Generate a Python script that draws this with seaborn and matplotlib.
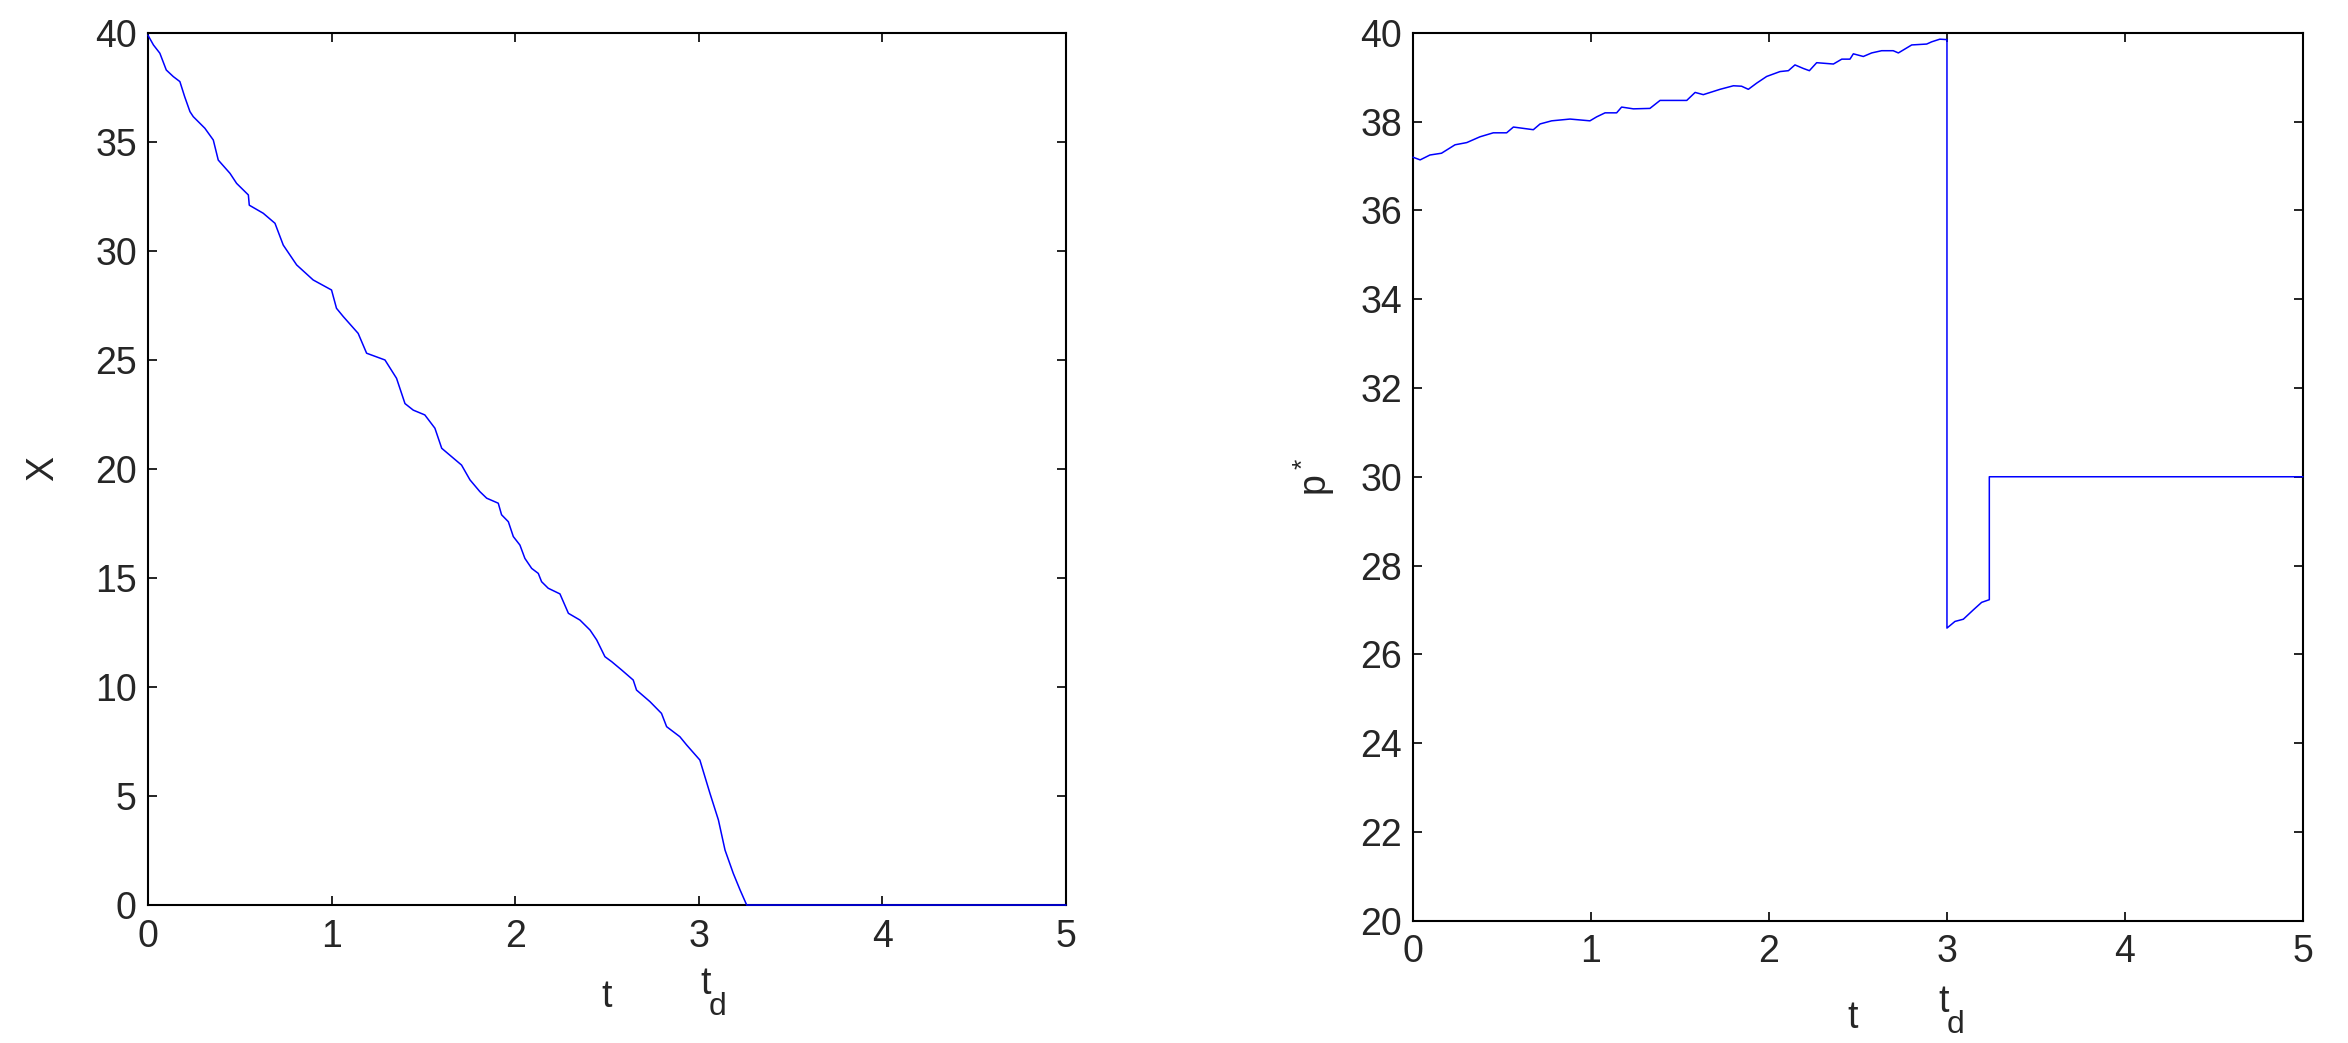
import numpy as np
import pandas as pd
import matplotlib
matplotlib.use("Agg")
import matplotlib.pyplot as plt
import seaborn as sns

# X(t) - left panel
t_x = [0, 0.03, 0.065, 0.10, 0.138, 0.174, 0.20, 0.229, 0.247, 0.31,
       0.356, 0.383, 0.447, 0.483, 0.547, 0.552, 0.628, 0.692, 0.737, 0.81,
       0.90, 1.0, 1.027, 1.064, 1.145, 1.191, 1.291, 1.354, 1.40, 1.445,
       1.508, 1.563, 1.60, 1.708, 1.754, 1.808, 1.845, 1.908, 1.926, 1.963,
       1.99, 2.026, 2.053, 2.09, 2.126, 2.144, 2.18, 2.244, 2.29, 2.353,
       2.408, 2.444, 2.489, 2.526, 2.58, 2.643, 2.661, 2.734, 2.797, 2.825,
       2.897, 2.934, 3.006, 3.061, 3.107, 3.143, 3.188, 3.225, 3.261, 5.0]
X = [39.9, 39.45, 39.07, 38.3, 38.0, 37.77, 37.08, 36.39, 36.16, 35.63,
     35.09, 34.17, 33.56, 33.1, 32.57, 32.1, 31.73, 31.27, 30.27, 29.36,
     28.67, 28.21, 27.37, 26.99, 26.22, 25.31, 25.0, 24.16, 23.0, 22.7,
     22.48, 21.87, 20.95, 20.18, 19.5, 18.96, 18.66, 18.43, 17.9, 17.58,
     16.9, 16.51, 15.9, 15.44, 15.21, 14.83, 14.53, 14.27, 13.38, 13.07,
     12.61, 12.16, 11.39, 11.16, 10.78, 10.32, 9.86, 9.33, 8.79, 8.18,
     7.72, 7.34, 6.65, 5.12, 3.9, 2.52, 1.45, 0.69, 0.0, 0.0]

# p*(t) - right panel
t_p = [0.0, 0.04, 0.095, 0.16, 0.236, 0.302, 0.376, 0.451, 0.526, 0.564,
       0.676, 0.714, 0.779, 0.882, 0.994, 1.032, 1.079, 1.144, 1.172, 1.238,
       1.331, 1.388, 1.538, 1.585, 1.631, 1.725, 1.80, 1.846, 1.884, 1.931,
       1.987, 2.062, 2.109, 2.146, 2.193, 2.227, 2.268, 2.362, 2.409, 2.455,
       2.474, 2.53, 2.577, 2.633, 2.698, 2.727, 2.802, 2.886, 2.914, 2.96,
       3.0, 3.0, 3.045, 3.092, 3.148, 3.195, 3.238, 3.238, 5.0]
p_star = [37.2, 37.14, 37.25, 37.29, 37.48, 37.53, 37.66, 37.75, 37.75, 37.88,
          37.82, 37.95, 38.02, 38.06, 38.02, 38.11, 38.2, 38.2, 38.33, 38.29,
          38.3, 38.48, 38.48, 38.66, 38.61, 38.73, 38.81, 38.8, 38.73, 38.87,
          39.02, 39.13, 39.15, 39.28, 39.2, 39.15, 39.33, 39.3, 39.41, 39.41,
          39.53, 39.47, 39.55, 39.6, 39.6, 39.55, 39.73, 39.75, 39.8, 39.86,
          39.85, 26.59, 26.74, 26.79, 27.0, 27.17, 27.23, 30.0, 30.0]

x_ticks = [0, 1, 2, 3, 4, 5]
x_yticks = [0, 5, 10, 15, 20, 25, 30, 35, 40]
p_yticks = [20, 22, 24, 26, 28, 30, 32, 34, 36, 38, 40]
td_pos = [3.04, 2.98]

sns.set_style("ticks")
plt.rcParams["font.family"] = ["Liberation Sans", "DejaVu Sans"]
plt.rcParams["mathtext.default"] = "regular"
plt.rcParams["axes.linewidth"] = 1.5

df_x = pd.DataFrame({"t": t_x, "X": X})
df_p = pd.DataFrame({"t": t_p, "p": p_star})

fig = plt.figure(figsize=(23.48, 10.43), dpi=100)
ax1 = fig.add_axes([0.0630, 0.1323, 0.3910, 0.8361])
ax2 = fig.add_axes([0.6018, 0.1174, 0.3790, 0.8510])

sns.lineplot(data=df_x, x="t", y="X", ax=ax1, sort=False, estimator=None,
             color="#0000ff", linewidth=1.1, zorder=3, clip_on=False)
sns.lineplot(data=df_p, x="t", y="p", ax=ax2, sort=False, estimator=None,
             color="#0000ff", linewidth=1.1, zorder=3, clip_on=False)

fs = 27
for ax, yt, lim in [(ax1, x_yticks, (0, 40)), (ax2, p_yticks, (20, 40))]:
    ax.set_xlim(0, 5)
    ax.set_ylim(*lim)
    ax.set_xticks(x_ticks)
    ax.set_yticks(yt)
    ax.tick_params(direction="in", length=6.5, width=1.2, top=True, right=True,
                   labelsize=fs, color="black")
    ax.tick_params(axis="x", pad=10)
    ax.tick_params(axis="y", pad=8)
    for s in ax.spines.values():
        s.set_visible(True)
        s.set_color("black")
    ax.set_xlabel("t", fontsize=fs)

ax1.set_ylabel("X", fontsize=fs)
ax2.set_ylabel("$p^*$", fontsize=fs)
ax1.yaxis.set_label_coords(-0.094, 0.5)
ax2.yaxis.set_label_coords(-0.085, 0.5)
ax1.xaxis.set_label_coords(0.5, -0.085)
ax2.xaxis.set_label_coords(0.494, -0.089)

# t_d marker under the axis: "t" with a large, low "d"
for ax, xpos, ypos in [(ax1, td_pos[0], -0.070), (ax2, td_pos[1], -0.071)]:
    tr = ax.get_xaxis_transform()
    ax.text(xpos, ypos, "t", transform=tr, ha="center", va="top", fontsize=fs)
    ax.annotate("d", xy=(xpos, ypos), xycoords=tr, xytext=(2, -19),
                textcoords="offset points", ha="left", va="top",
                fontsize=fs * 0.85, annotation_clip=False)

fig.savefig("out.png", dpi=100)
